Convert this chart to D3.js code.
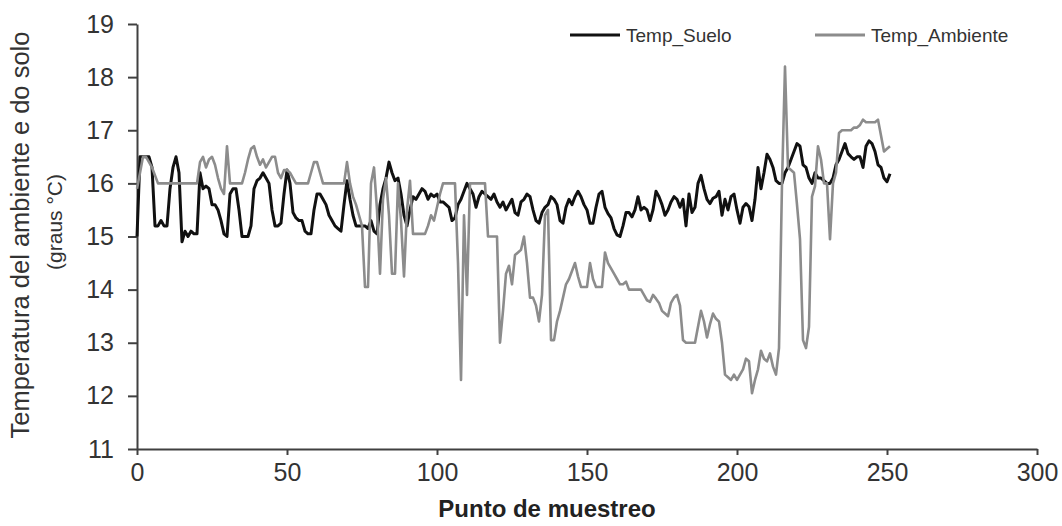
<html>
<body style="margin:0">
    <script src="https://d3js.org/d3.v7.min.js"></script>
    <svg width="1062" height="526"></svg>
    <script type="text/javascript">
    // values, one per sampling point (0..251)
    var tempSuelo = [
        15.0,16.5,16.5,16.5,16.5,16.3,15.2,15.2,15.3,15.2,
        15.2,15.9,16.3,16.5,16.2,14.9,15.1,15.0,15.1,15.05,
        15.05,16.2,15.9,15.95,15.9,15.6,15.6,15.5,15.3,15.05,
        15.0,15.8,15.9,15.9,15.5,15.0,15.0,15.0,15.2,15.9,
        16.05,16.1,16.2,16.1,16.0,15.5,15.2,15.2,15.25,15.8,
        16.25,16.0,15.45,15.35,15.3,15.3,15.1,15.05,15.05,15.5,
        15.8,15.8,15.7,15.6,15.4,15.3,15.2,15.15,15.1,15.6,
        16.05,15.7,15.4,15.2,15.2,15.2,15.2,15.15,15.3,15.1,
        15.05,15.6,15.9,16.1,16.4,16.2,16.05,16.1,15.8,15.4,
        15.2,15.5,15.75,15.7,15.8,15.9,15.85,15.7,15.8,15.75,
        15.8,15.65,15.65,15.6,15.55,15.3,15.35,15.6,15.7,15.85,
        16.0,15.9,15.8,15.55,15.75,15.85,15.8,15.75,15.7,15.8,
        15.65,15.55,15.65,15.5,15.6,15.7,15.45,15.4,15.65,15.7,
        15.8,15.75,15.5,15.3,15.25,15.45,15.55,15.6,15.75,15.7,
        15.6,15.3,15.25,15.55,15.7,15.6,15.75,15.85,15.75,15.6,
        15.5,15.25,15.25,15.55,15.8,15.85,15.55,15.43,15.35,15.15,
        15.03,15.0,15.2,15.45,15.45,15.37,15.5,15.75,15.5,15.55,
        15.5,15.3,15.5,15.85,15.75,15.6,15.4,15.5,15.65,15.75,
        15.7,15.55,15.7,15.2,15.8,15.45,15.55,16.0,16.15,15.9,
        15.7,15.62,15.72,15.75,15.85,15.4,15.7,15.5,15.75,15.8,
        15.5,15.25,15.55,15.62,15.56,15.3,15.7,16.3,15.9,16.2,
        16.55,16.45,16.3,16.05,16.0,16.0,16.2,16.3,16.45,16.6,
        16.75,16.7,16.35,16.3,16.1,16.0,16.2,16.1,16.1,16.05,
        16.0,16.0,16.1,16.35,16.45,16.6,16.75,16.56,16.5,16.45,
        16.5,16.5,16.3,16.7,16.8,16.75,16.6,16.35,16.3,16.1,
        16.03,16.18
    ];

    var tempAmbiente = [
        15.9,16.2,16.5,16.5,16.4,16.3,16.15,16.0,16.0,16.0,
        16.0,16.0,16.0,16.0,16.0,16.0,16.0,16.0,16.0,16.0,
        16.0,16.4,16.5,16.3,16.45,16.5,16.35,16.1,15.9,15.8,
        16.7,16.0,16.0,16.0,16.0,16.0,16.2,16.45,16.65,16.7,
        16.5,16.35,16.45,16.3,16.4,16.5,16.5,16.2,16.1,16.25,
        16.25,16.2,16.1,16.0,16.0,16.0,16.0,16.0,16.2,16.4,
        16.4,16.2,16.0,16.0,16.0,16.0,16.0,16.0,16.0,16.0,
        16.4,16.0,15.75,15.6,15.4,15.2,14.05,14.05,16.0,16.3,
        15.5,14.3,15.7,16.1,15.4,14.3,14.3,16.0,15.3,14.25,
        15.5,16.05,15.05,15.05,15.05,15.05,15.05,15.2,15.4,15.3,
        15.55,15.8,16.0,16.0,16.0,16.0,16.0,14.5,12.3,15.4,
        13.9,16.0,16.0,16.0,16.0,16.0,16.0,15.0,15.0,15.0,
        15.0,13.0,13.6,14.3,14.45,14.1,14.65,14.7,14.75,15.0,
        14.5,13.85,13.85,13.7,13.4,13.9,15.4,15.5,13.05,13.05,
        13.4,13.6,13.85,14.1,14.2,14.35,14.5,14.25,14.05,14.05,
        14.05,14.5,14.2,14.05,14.05,14.05,14.7,14.5,14.4,14.3,
        14.2,14.1,14.1,14.15,14.0,14.0,14.0,14.0,14.0,13.9,
        13.8,13.77,13.9,13.83,13.75,13.6,13.55,13.5,13.75,13.85,
        13.9,13.7,13.05,13.0,13.0,13.0,13.0,13.3,13.6,13.4,
        13.1,13.35,13.55,13.45,13.4,13.0,12.4,12.35,12.3,12.4,
        12.3,12.4,12.5,12.7,12.65,12.05,12.3,12.5,12.85,12.7,
        12.65,12.8,12.55,12.4,12.9,16.0,18.2,16.3,16.25,16.2,
        15.6,14.95,13.05,12.9,13.3,15.75,15.95,16.7,16.45,16.0,
        16.0,14.95,16.0,16.2,16.95,17.0,17.0,17.0,17.0,17.05,
        17.05,17.1,17.2,17.15,17.15,17.15,17.15,17.2,16.9,16.6,
        16.65,16.7
    ];

    var seriesNames = ["Temp_Suelo", "Temp_Ambiente"];
    var xTicks = [0, 50, 100, 150, 200, 250, 300];
    var yTicks = [11, 12, 13, 14, 15, 16, 17, 18, 19];

    var plotLeft = 137, plotRight = 1037, plotTop = 24, plotBottom = 449;

    var svg = d3.select("svg")
        .style("font-family", "Arial, 'Liberation Sans', sans-serif");

    var x = d3.scaleLinear().domain([0, 300]).range([plotLeft, plotRight]);
    var y = d3.scaleLinear().domain([11, 19]).range([plotBottom, plotTop]);

    // axes
    var yAxis = svg.append("g")
        .attr("transform", "translate(" + plotLeft + ",0)")
        .call(d3.axisLeft(y).tickValues(yTicks).tickSize(9).tickSizeOuter(0).tickPadding(14));

    var xAxis = svg.append("g")
        .attr("transform", "translate(0," + plotBottom + ")")
        .call(d3.axisBottom(x).tickValues(xTicks).tickSize(6).tickSizeOuter(0).tickPadding(8));

    [yAxis, xAxis].forEach(function(g) {
        g.select(".domain").attr("stroke", "#404040").attr("stroke-width", 2);
        g.selectAll(".tick line").attr("stroke", "#404040").attr("stroke-width", 2);
        g.selectAll(".tick text")
            .attr("fill", "#333")
            .style("font-size", "25px")
            .style("font-family", "Arial, 'Liberation Sans', sans-serif");
    });

    // lines, first series under the second
    var line = d3.line()
        .x(function(d, i) { return x(i); })
        .y(function(d) { return y(d); });

    svg.append("path")
        .datum(tempSuelo)
        .attr("fill", "none")
        .attr("stroke", "#111")
        .attr("stroke-width", 3)
        .attr("stroke-linejoin", "round")
        .attr("d", line);

    svg.append("path")
        .datum(tempAmbiente)
        .attr("fill", "none")
        .attr("stroke", "#8c8c8c")
        .attr("stroke-width", 2.6)
        .attr("stroke-linejoin", "round")
        .attr("d", line);

    // legend
    var legend = svg.selectAll(".legend").data(seriesNames).enter()
        .append("g")
        .attr("transform", function(d, i) { return "translate(" + (570 + i * 245) + ",35)"; });

    legend.append("line")
        .attr("x1", 0).attr("x2", 50)
        .attr("stroke", function(d, i) { return i == 0 ? "#111" : "#8c8c8c"; })
        .attr("stroke-width", 3);

    legend.append("text")
        .attr("x", 56)
        .attr("dy", "0.35em")
        .attr("fill", "#333")
        .style("font-size", "19px")
        .text(function(d) { return d; });

    // axis titles
    svg.append("text")
        .attr("x", 547).attr("y", 517)
        .attr("text-anchor", "middle")
        .attr("fill", "#222")
        .style("font-size", "24px")
        .style("font-weight", "bold")
        .text("Punto de muestreo");

    svg.append("text")
        .attr("transform", "translate(29,235) rotate(-90)")
        .attr("text-anchor", "middle")
        .attr("fill", "#333")
        .style("font-size", "25.5px")
        .text("Temperatura del ambiente e do solo");

    svg.append("text")
        .attr("transform", "translate(62,222) rotate(-90)")
        .attr("text-anchor", "middle")
        .attr("fill", "#333")
        .style("font-size", "21px")
        .text("(graus °C)");
    </script>
</body>
</html>
